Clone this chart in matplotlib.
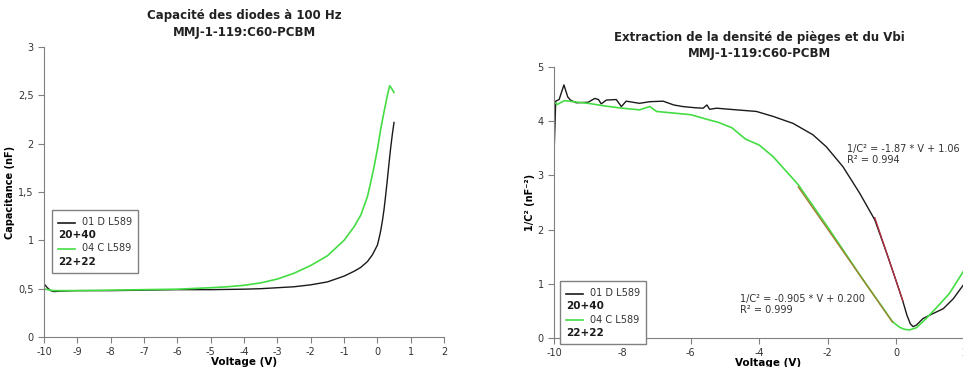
import numpy as np
import matplotlib.pyplot as plt
from matplotlib.lines import Line2D
from matplotlib.offsetbox import AnchoredOffsetbox, VPacker, HPacker, TextArea, DrawingArea
from matplotlib.ticker import FuncFormatter

# Capacité (nF) vs tension
v_d = [-10, -9.9, -9.8, -9.7, -9.5, -9, -8, -7, -6, -5, -4, -3.5, -3, -2.5, -2, -1.5,
       -1, -0.7, -0.5, -0.3, -0.15, 0, 0.05, 0.1, 0.15, 0.2, 0.25, 0.3, 0.35, 0.4, 0.45, 0.5]
c_d = [0.55, 0.51, 0.48, 0.47, 0.475, 0.48, 0.48, 0.485, 0.49, 0.49, 0.495, 0.5, 0.51, 0.52,
       0.54, 0.57, 0.63, 0.68, 0.72, 0.78, 0.85, 0.95, 1.02, 1.1, 1.2, 1.32, 1.47, 1.63,
       1.8, 1.96, 2.1, 2.22]
v_c = [-10, -9.9, -9.7, -9.5, -9, -8, -7, -6, -5, -4.5, -4, -3.5, -3, -2.5, -2, -1.5,
       -1, -0.7, -0.5, -0.3, -0.2, -0.1, 0, 0.1, 0.2, 0.3, 0.37, 0.43, 0.5]
c_c = [0.5, 0.49, 0.48, 0.48, 0.48, 0.485, 0.49, 0.495, 0.51, 0.52, 0.535, 0.56, 0.6, 0.66,
       0.74, 0.84, 1.0, 1.14, 1.26, 1.45, 1.6, 1.76, 1.94, 2.15, 2.33, 2.5, 2.6, 2.57, 2.53]

# 1/C² (nF⁻²) vs tension
v_d2 = [-10, -9.95, -9.85, -9.71, -9.6, -9.52, -9.35, -9.0, -8.81, -8.7, -8.62, -8.47,
        -8.18, -8.03, -7.89, -7.5, -7.2, -6.81, -6.5, -6.23, -5.9, -5.64, -5.53, -5.45,
        -5.25, -4.67, -4.08, -3.6, -3.01, -2.43, -2.04, -1.55, -1.06, -0.62, -0.28, 0.0,
        0.2, 0.32, 0.42, 0.5, 0.6, 0.79, 1.08, 1.38, 1.67, 1.96]
y_d2 = [3.38, 4.37, 4.40, 4.67, 4.45, 4.39, 4.34, 4.35, 4.42, 4.40, 4.32, 4.39,
        4.40, 4.27, 4.37, 4.33, 4.36, 4.37, 4.30, 4.27, 4.25, 4.24, 4.30, 4.22,
        4.24, 4.21, 4.18, 4.09, 3.96, 3.75, 3.53, 3.16, 2.67, 2.18, 1.58, 1.06,
        0.68, 0.42, 0.26, 0.21, 0.24, 0.36, 0.45, 0.54, 0.72, 0.97]
v_c2 = [-10, -9.9, -9.7, -9.3, -9.0, -8.5, -8.0, -7.5, -7.2, -7.0, -6.5, -6.0, -5.5,
        -5.2, -4.8, -4.4, -4.0, -3.6, -3.2, -2.86, -2.0, -1.0, -0.1, 0.1, 0.25, 0.4,
        0.6, 0.88, 1.17, 1.56, 1.96]
y_c2 = [4.35, 4.31, 4.38, 4.35, 4.33, 4.28, 4.24, 4.21, 4.27, 4.18, 4.15, 4.12, 4.03,
        3.98, 3.88, 3.67, 3.56, 3.35, 3.07, 2.83, 2.05, 1.11, 0.30, 0.2, 0.16, 0.15,
        0.19, 0.36, 0.55, 0.82, 1.22]

# ajustements linéaires
fit_d = (-1.87, 1.06, -0.62, 0.2)
fit_c = (-0.905, 0.200, -2.86, -0.1)

BLACK = '#1a1a1a'
GREEN = '#44dd44'
GRAY = '#808080'

plt.rcParams['font.family'] = 'DejaVu Sans'
plt.rcParams['axes.unicode_minus'] = False
fig = plt.figure(figsize=(9.63, 3.67), dpi=100)
ax1 = fig.add_axes([0.0457, 0.0817, 0.4154, 0.790])
ax2 = fig.add_axes([0.5753, 0.0790, 0.4439, 0.7384])

comma = FuncFormatter(lambda x, p: ('%g' % x).replace('.', ','))


def style(ax):
    for s in ['top', 'right']:
        ax.spines[s].set_visible(False)
    for s in ['left', 'bottom']:
        ax.spines[s].set_color(GRAY)
    ax.tick_params(direction='out', length=4, color=GRAY, labelsize=7, labelcolor='#333333')
    ax.set_xlabel('Voltage (V)', fontsize=7.5, fontweight='bold', labelpad=0)


def legend(ax, x, y):
    rows = []
    for color, name, grp in [(BLACK, '01 D L589', '20+40'), (GREEN, '04 C L589', '22+22')]:
        da = DrawingArea(12, 8, 0, 0)
        da.add_artist(Line2D([0, 12], [3.5, 3.5], color=color, lw=1.2))
        rows.append(HPacker(children=[da, TextArea(name, textprops=dict(size=7, color='#333333'))],
                            pad=0, sep=5, align='center'))
        rows.append(TextArea(grp, textprops=dict(size=7.5, weight='bold', color=BLACK)))
    box = VPacker(children=rows, pad=0, sep=2, align='left')
    ab = AnchoredOffsetbox(loc='upper left', child=box, pad=0.45, borderpad=0, frameon=True,
                           bbox_to_anchor=(x, y), bbox_transform=ax.transAxes)
    ab.patch.set_boxstyle('square,pad=0')
    ab.patch.set_edgecolor(GRAY)
    ab.patch.set_linewidth(1)
    ax.add_artist(ab)


# panneau gauche
ax1.plot(v_d, c_d, color=BLACK, lw=1)
ax1.plot(v_c, c_c, color=GREEN, lw=1.2)
ax1.set_xlim(-10, 2)
ax1.set_ylim(0, 3)
ax1.set_xticks(range(-10, 3))
ax1.set_yticks(np.arange(0, 3.01, 0.5))
ax1.yaxis.set_major_formatter(comma)
style(ax1)
ax1.set_ylabel('Capacitance (nF)', fontsize=7, fontweight='bold', labelpad=2)
ax1.set_title('Capacité des diodes à 100 Hz\nMMJ-1-119:C60-PCBM', fontsize=8.5,
              fontweight='bold', color='#222222', pad=8, linespacing=1.35)
legend(ax1, 0.02, 0.438)

# panneau droit
ax2.plot(v_d2, y_d2, color=BLACK, lw=1)
ax2.plot(v_c2, y_c2, color=GREEN, lw=1.2)
for (a, b, x0, x1), col in [(fit_d, '#b03040'), (fit_c, '#a08030')]:
    xs = np.array([x0, x1])
    ax2.plot(xs, a * xs + b, color=col, lw=1)
ax2.set_xlim(-10, 2.5)
ax2.set_ylim(0, 5)
ax2.set_xticks(range(-10, 3, 2))
ax2.set_yticks(range(0, 6))
style(ax2)
ax2.set_ylabel('1/C² (nF⁻²)', fontsize=7, fontweight='bold', labelpad=2)
ax2.set_title('Extraction de la densité de pièges et du Vbi\nMMJ-1-119:C60-PCBM',
              fontsize=8.5, fontweight='bold', color='#222222', pad=7, linespacing=1.35,
              x=0.48)
ax2.text(-1.43, 3.58, '1/C² = %.2f * V + %.2f\nR² = 0.994' % fit_d[:2],
         fontsize=7, va='top', color='#333333', linespacing=1.1)
ax2.text(-4.56, 0.81, '1/C² = %.3f * V + %.3f\nR² = 0.999' % fit_c[:2],
         fontsize=7, va='top', color='#333333', linespacing=1.1)
legend(ax2, 0.014, 0.21)

fig.savefig('out.png', dpi=100)
